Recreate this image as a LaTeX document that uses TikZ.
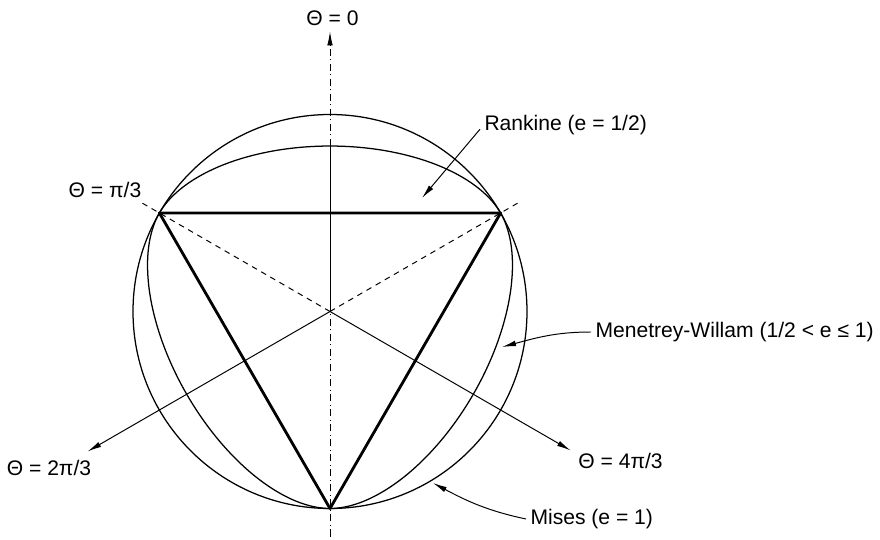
\documentclass[tikz,border=0pt]{standalone}
\usepackage{fontspec}
\setmainfont{Liberation Sans}
\usetikzlibrary{arrows.meta,positioning,calc}

\begin{document}
\begin{tikzpicture}[
  x=0.025cm, y=0.025cm,
  font=\fontsize{15}{18}\selectfont,
  yield/.style={line width=0.9pt},
  rankine/.style={line width=2pt, line join=round},
  axis/.style={line width=0.7pt},
  guide/.style={line width=0.7pt, dash pattern=on 4pt off 3.5pt},
  meridian/.style={line width=0.7pt, dash pattern=on 5pt off 2.5pt on 0.7pt off 2.5pt},
  arr/.style={-{Latex[length=3.5mm,width=1.4mm]}, line width=0.7pt},
  lbl/.style={inner sep=3pt},
  declare function={
    lode(\t)=acos(cos(3*(\t-90)))/3;
    mwr(\t)=(0.5888*cos(lode(\t))+0.68*sqrt(1.1776*cos(lode(\t))^2+0.168))/(1.1776*cos(lode(\t))^2+0.4624);
  },
]
\useasboundingbox (-330,-227.5) rectangle (550,311.5);
\coordinate (O) at (0,0);
\coordinate (A) at (150:197);
\coordinate (B) at (30:197);
\coordinate (Cv) at (270:197);
\coordinate (ytop) at (0,280);
\coordinate (ybot) at (0,-225);
\coordinate (mwtop) at (0,165.5);
\coordinate (dl) at (150:220);
\coordinate (dr) at (30:220);
\coordinate (t2) at (210:280);
\coordinate (t4) at (-30:278);
\coordinate (rktip) at (92,113.5);
\coordinate (mwtip) at (172,-35.5);
\coordinate (mitip) at (103,-171.5);

\node[lbl] (th0) at (2.5,293) {Θ = 0};
\node[lbl] (th1) at (-225,121.5) {Θ = π/3};
\node[lbl] (th2) at (-281,-156) {Θ = 2π/3};
\node[lbl] (th4) at (290.5,-149) {Θ = 4π/3};
\node[lbl, anchor=west] (rk) at (150,186.5) {Rankine (e = 1/2)};
\node[lbl, anchor=west] (mw) at (261,-20.5) {Menetrey-Willam (1/2 < e ≤ 1)};
\node[lbl, anchor=west] (mi) at (196,-207.5) {Mises (e = 1)};

\draw[yield] (O) circle[radius=197];
\draw[yield] plot[domain=0:360, samples=361, smooth] (\x:{197*mwr(\x)}) -- cycle;
\draw[rankine] (A) -- (B) -- (Cv) -- cycle;

\draw[guide] (O) -- (dl);
\draw[guide] (O) -- (dr);
\draw[meridian] (ybot) -- (O);
\draw[meridian, arr] (mwtop) -- (ytop);
\draw[axis] (O) -- (mwtop);
\draw[arr] (O) -- (t2);
\draw[arr] (O) -- (t4);

\draw[arr] ([yshift=-3pt]rk.west) -- (rktip);
\draw[arr] (mw.west) to[out=180, in=15] (mwtip);
\draw[arr] (mi.west) to[out=168, in=-28] (mitip);
\end{tikzpicture}
\end{document}
